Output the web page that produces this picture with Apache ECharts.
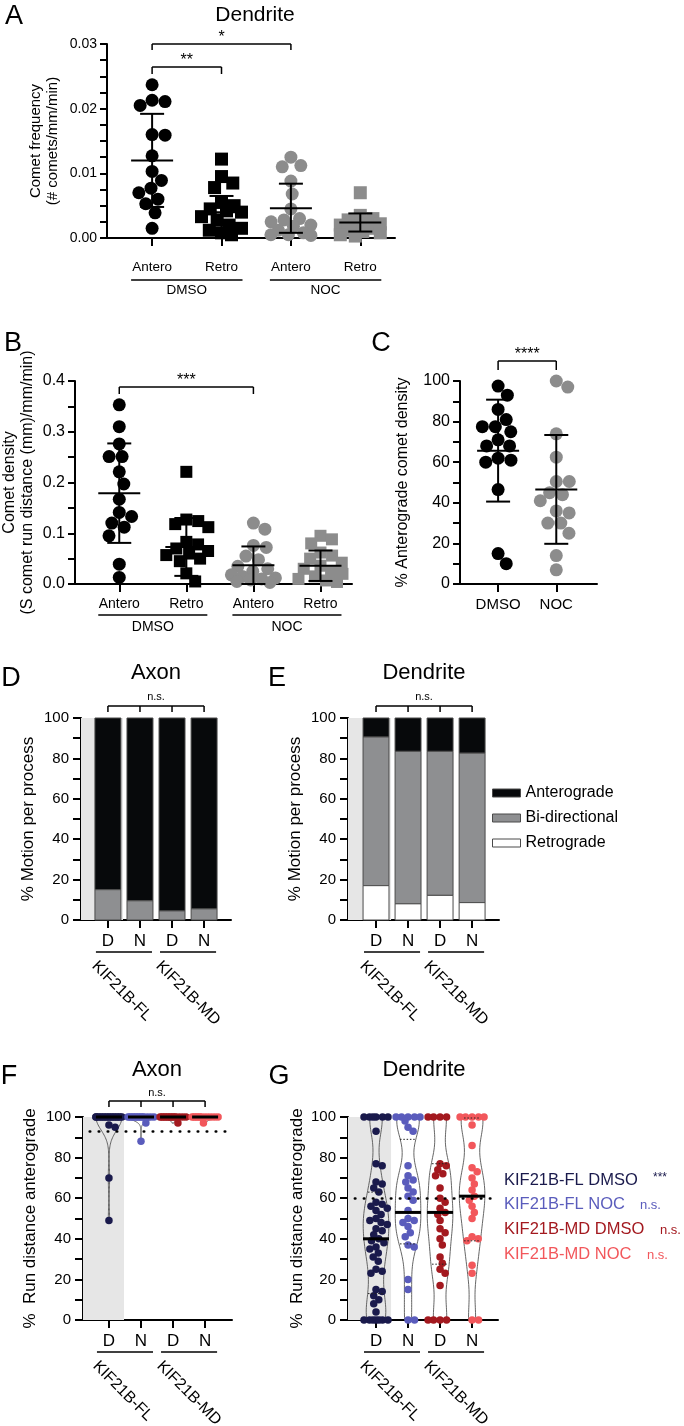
<!DOCTYPE html>
<html><head><meta charset="utf-8">
<script src="https://cdn.jsdelivr.net/npm/echarts@6/dist/echarts.min.js"></script>
<style>html,body{margin:0;padding:0;background:#fff}#c{width:684px;height:1426px}</style>
</head><body><div id="c"></div>
<script>
// ---------------- DATA ----------------
// Panel A – comet frequency (dendrite)
const A_categories = ['Antero', 'Retro', 'Antero', 'Retro'];
const A_groups = ['DMSO', 'NOC'];
const A_dmso_antero = [0.0237, 0.0213, 0.0211, 0.0205, 0.0160, 0.0159, 0.0127, 0.0103, 0.0089, 0.0077, 0.0070, 0.0060, 0.0053, 0.0039, 0.0015];
const A_dmso_retro = [0.0122, 0.0095, 0.0085, 0.0078, 0.0055, 0.0050, 0.0045, 0.0042, 0.0040, 0.0033, 0.0028, 0.0020, 0.0015, 0.0012, 0.0008, 0.0005];
const A_noc_antero = [0.0125, 0.0112, 0.0110, 0.0088, 0.0068, 0.0045, 0.0030, 0.0028, 0.0025, 0.0020, 0.0018, 0.0012, 0.0008, 0.0005, 0.0005, 0.0004];
const A_noc_retro = [0.0070, 0.0035, 0.0030, 0.0028, 0.0025, 0.0022, 0.0020, 0.0018, 0.0015, 0.0012, 0.0010, 0.0008, 0.0005, 0.0003];
const A_mean = [0.0120, 0.0040, 0.0046, 0.0024];
const A_sd = [0.0072, 0.0025, 0.0038, 0.0014];

// Panel B – comet density
const B_categories = ['Antero', 'Retro', 'Antero', 'Retro'];
const B_groups = ['DMSO', 'NOC'];
const B_dmso_antero = [0.353, 0.310, 0.276, 0.251, 0.251, 0.221, 0.197, 0.167, 0.141, 0.133, 0.120, 0.112, 0.095, 0.039, 0.013];
const B_dmso_retro = [0.221, 0.127, 0.124, 0.118, 0.112, 0.083, 0.078, 0.070, 0.065, 0.060, 0.057, 0.050, 0.045, 0.021, 0.005];
const B_noc_antero = [0.120, 0.108, 0.076, 0.072, 0.055, 0.048, 0.035, 0.030, 0.025, 0.018, 0.015, 0.012, 0.010, 0.008, 0.005, 0.003];
const B_noc_retro = [0.095, 0.088, 0.080, 0.062, 0.056, 0.050, 0.042, 0.036, 0.030, 0.025, 0.020, 0.015, 0.010, 0.007, 0.004];
const B_mean = [0.179, 0.073, 0.037, 0.036];
const B_sd = [0.098, 0.057, 0.037, 0.030];

// Panel C – % anterograde comet density
const C_categories = ['DMSO', 'NOC'];
const C_dmso = [97.5, 93, 86, 81, 77.5, 77.5, 75, 71, 68, 68, 62, 61, 60, 46.5, 15, 10];
const C_noc = [100, 97, 74, 62.5, 50.5, 50.5, 45, 44, 41, 36, 35, 30, 30, 25, 14, 7];
const C_mean = [65.7, 46.6];
const C_sd = [25.1, 26.8];

// Panels D / E – % motion per process
const DE_categories = ['D', 'N', 'D', 'N'];
const DE_groups = ['KIF21B-FL', 'KIF21B-MD'];
const motionTypes = ['Anterograde', 'Bi-directional', 'Retrograde'];
const D_antero = [85, 90.5, 95.5, 94.5];
const D_bidir = [15, 9.5, 4.5, 5.5];
const D_retro = [0, 0, 0, 0];
const E_antero = [9.4, 16.5, 16.5, 17.4];
const E_bidir = [73.6, 75.5, 71.3, 74];
const E_retro = [17, 8, 12.2, 8.6];

// Panel F – % run distance anterograde (axon)
const F_fl_dmso = [100, 100, 100, 100, 100, 100, 100, 100, 100, 100, 100, 100, 100, 100, 100, 100, 100, 100, 96, 95, 70, 49];
const F_fl_noc = [100, 100, 100, 100, 100, 100, 100, 100, 100, 100, 100, 100, 100, 100, 97, 88];
const F_md_dmso = [100, 100, 100, 100, 100, 100, 100, 100, 100, 100, 100, 100, 100, 100, 97];
const F_md_noc = [100, 100, 100, 100, 100, 100, 100, 100, 100, 100, 100, 100, 97];
const F_median = [100, 100, 100, 100];
const F_threshold = 93;

// Panel G – % run distance anterograde (dendrite)
const G_fl_dmso = [100, 100, 100, 100, 100, 100, 93, 77, 76, 68, 67, 65, 63, 58, 57, 56, 55, 54, 52, 50, 49, 48, 47, 45, 44, 42, 40, 39, 38, 36, 35, 33, 31, 29, 25, 24, 23, 15, 14, 12, 10, 8, 4, 0, 0, 0, 0, 0, 0, 0];
const G_fl_noc = [100, 100, 100, 100, 100, 98, 95, 93, 76, 71, 69, 68, 65, 63, 61, 59, 54, 50, 49, 48, 46, 43, 41, 37, 36, 20, 15, 0, 0];
const G_md_dmso = [100, 100, 100, 100, 77, 76, 74, 72, 71, 65, 60, 58, 55, 53, 52, 49, 45, 43, 40, 37, 31, 28, 25, 23, 17, 0, 0, 0, 0];
const G_md_noc = [100, 100, 100, 100, 100, 96, 86, 75, 73, 70, 67, 64, 61, 59, 56, 53, 50, 41, 40, 39, 27, 23, 0, 0];
const G_median = [40, 53, 53, 61];
const G_q1 = [13, 37.5, 27.5, 39];
const G_q3 = [63, 89, 77, 99.5];
const G_threshold = 60;
const G_legend = ['KIF21B-FL DMSO', 'KIF21B-FL NOC', 'KIF21B-MD DMSO', 'KIF21B-MD NOC'];
const G_sig = ['***', 'n.s.', 'n.s.', 'n.s.'];

// ---------------- STYLE / LAYOUT ----------------
const FONT = '"Liberation Sans", Arial, Helvetica, sans-serif';
const BLACK = '#000000', GRAY = '#8c8c8c', SHADE = '#e6e6e6';
const BAR_COL = ['#07090b', '#8e8f91', '#ffffff'];
const KIF_COL = ['#1a1a4c', '#5a5cbc', '#a3191f', '#f2575b'];

const GRIDS = [
  {left: 107, top: 44, width: 288, height: 194},   // A
  {left: 70, top: 381, width: 282, height: 203},   // B
  {left: 460, top: 381, width: 137, height: 203},  // C
  {left: 81, top: 718, width: 150, height: 202},   // D
  {left: 348, top: 718, width: 151, height: 202},  // E
  {left: 83, top: 1117, width: 149, height: 203},  // F
  {left: 348, top: 1117, width: 150, height: 203}  // G
];
const XR = [[0.35, 4.5], [0.34, 4.47], [0.345, 2.7], [0.16, 4.84], [0.125, 4.84], [0.19, 4.84], [0.125, 4.81]];

const chart = echarts.init(document.getElementById('c'), null, {width: 684, height: 1426});

function yAx(gi, max, interval, minorSplit, fmt, name, nameGap, nameSize, labelSize, tickLen, margin) {
  return {
    type: 'value', gridIndex: gi, min: 0, max: max, interval: interval,
    axisLine: {show: true, lineStyle: {color: BLACK, width: 2}},
    axisTick: {show: true, length: tickLen, lineStyle: {color: BLACK, width: 2}},
    minorTick: {show: true, splitNumber: minorSplit, length: tickLen, lineStyle: {color: BLACK, width: 2}},
    splitLine: {show: false}, minorSplitLine: {show: false},
    axisLabel: {fontFamily: FONT, fontSize: labelSize, color: BLACK, margin: margin, formatter: fmt},
    name: name, nameLocation: 'middle', nameGap: nameGap, nameRotate: 90,
    nameTextStyle: {fontFamily: FONT, fontSize: nameSize, color: BLACK, lineHeight: Math.round(nameSize * 1.15)}
  };
}
function xAx(gi, labels, fontSize, margin) {
  const vals = labels.map((l, i) => i + 1);
  return {
    type: 'value', gridIndex: gi, min: XR[gi][0], max: XR[gi][1],
    axisLine: {show: true, onZero: false, lineStyle: {color: BLACK, width: 2}},
    axisTick: {show: true, customValues: vals, length: 8, lineStyle: {color: BLACK, width: 2}},
    axisLabel: {show: true, customValues: vals, formatter: v => labels[Math.round(v) - 1] || '', fontFamily: FONT, fontSize: fontSize, color: BLACK, margin: margin},
    splitLine: {show: false}
  };
}

const base = {
  animation: false,
  backgroundColor: '#ffffff',
  grid: GRIDS.map(g => Object.assign({containLabel: false}, g)),
  xAxis: [
    xAx(0, A_categories, 13.5, 22),
    xAx(1, B_categories, 14, 13),
    xAx(2, C_categories, 15, 13),
    xAx(3, DE_categories, 17, 13),
    xAx(4, DE_categories, 17, 13),
    xAx(5, DE_categories, 17, 13),
    xAx(6, DE_categories, 17, 13)
  ],
  yAxis: [
    yAx(0, 0.03, 0.01, 4, v => v.toFixed(2), 'Comet frequency\n(# comets/mm/min)', 46, 15, 14, 7, 10),
    yAx(1, 0.4, 0.1, 2, v => v.toFixed(1), 'Comet density\n(S comet run distance (mm)/mm/min)', 38, 16, 16, 7, 10),
    yAx(2, 100, 20, 2, v => String(v), '% Anterograde comet density', 48, 16, 16, 7, 10),
    yAx(3, 100, 20, 2, v => String(v), '% Motion per process', 43, 17, 15, 8, 12),
    yAx(4, 100, 20, 2, v => String(v), '% Motion per process', 43, 17, 15, 8, 12),
    yAx(5, 100, 20, 2, v => String(v), '%  Run distance anterograde', 43, 17, 15, 8, 12),
    yAx(6, 100, 20, 2, v => String(v), '%  Run distance anterograde', 41, 17, 15, 8, 12)
  ],
  series: []
};
chart.setOption(base);

const px = (gi, x, y) => chart.convertToPixel({gridIndex: gi}, [x, y]);
const fromPx = (gi, p) => chart.convertFromPixel({gridIndex: gi}, p);

// deterministic beeswarm layout (pixel space)
function swarm(ys, diam, maxHalf) {
  const order = ys.map((y, i) => i).sort((a, b) => ys[a] - ys[b] || a - b);
  const placed = [], off = new Array(ys.length);
  for (const i of order) {
    const y = ys[i];
    const near = placed.filter(p => Math.abs(p.y - y) < diam);
    const cands = [0];
    near.forEach(p => { const dx = Math.sqrt(diam * diam - (p.y - y) * (p.y - y)); cands.push(p.x + dx, p.x - dx); });
    cands.sort((a, b) => Math.abs(a) - Math.abs(b) || b - a);
    let best = null;
    for (const c of cands) {
      if (Math.abs(c) > maxHalf + 0.01) continue;
      if (near.every(p => (p.x - c) * (p.x - c) + (p.y - y) * (p.y - y) >= diam * diam - 0.05)) { best = c; break; }
    }
    if (best === null) {
      let bd = -1;
      for (let k = 0; k <= 16; k++) {
        const c = -maxHalf + 2 * maxHalf * k / 16;
        const md = Math.min(...near.map(p => Math.hypot(p.x - c, p.y - y)));
        if (md > bd + 1e-6) { bd = md; best = c; }
      }
    }
    placed.push({x: best, y: y}); off[i] = best;
  }
  return off;
}
function swarmData(gi, xc, vals, diam, maxHalf) {
  const ys = vals.map(v => px(gi, xc, v)[1]);
  const offs = swarm(ys, diam, maxHalf);
  const x0 = px(gi, xc, 0)[0];
  return vals.map((v, i) => [fromPx(gi, [x0 + offs[i], 0])[0], v]);
}
function scatter(gi, xc, vals, color, symbol, size, diam, maxHalf, z) {
  return {type: 'scatter', xAxisIndex: gi, yAxisIndex: gi, symbol: symbol, symbolSize: size, z: z || 3, silent: true,
    itemStyle: {color: color, opacity: 1}, data: swarmData(gi, xc, vals, diam, maxHalf)};
}
function meanSd(gi, means, sds) {
  return {type: 'custom', xAxisIndex: gi, yAxisIndex: gi, z: 6, silent: true,
    data: means.map((m, i) => [i + 1, m, sds[i]]), encode: {x: 0, y: 1},
    renderItem: (p, api) => {
      const x = api.value(0), m = api.value(1), s = api.value(2);
      const c = api.coord([x, m]), t = api.coord([x, m + s]), b = api.coord([x, Math.max(0, m - s)]);
      const st = {stroke: BLACK, lineWidth: 2};
      return {type: 'group', children: [
        {type: 'line', shape: {x1: c[0], y1: t[1], x2: c[0], y2: b[1]}, style: st},
        {type: 'line', shape: {x1: c[0] - 12, y1: t[1], x2: c[0] + 12, y2: t[1]}, style: st},
        {type: 'line', shape: {x1: c[0] - 12, y1: b[1], x2: c[0] + 12, y2: b[1]}, style: st},
        {type: 'line', shape: {x1: c[0] - 21, y1: c[1], x2: c[0] + 21, y2: c[1]}, style: st}
      ]};
    }};
}
function barSeries(gi, name, lows, highs, color, withShade) {
  const s = {type: 'custom', name: name, xAxisIndex: gi, yAxisIndex: gi, z: 3, silent: true,
    itemStyle: {color: color, borderColor: '#4a4a4a', borderWidth: 1},
    data: lows.map((l, i) => [i + 1, l, highs[i]]), encode: {x: 0, y: [1, 2]},
    renderItem: (p, api) => {
      const x = api.value(0);
      const a = api.coord([x, api.value(1)]), b = api.coord([x, api.value(2)]);
      const w = api.size([0.81, 0])[0];
      if (a[1] - b[1] < 0.01) return null;
      return {type: 'rect', shape: {x: a[0] - w / 2, y: b[1], width: w, height: a[1] - b[1]},
        style: {fill: color, stroke: '#4a4a4a', lineWidth: 1}};
    }};
  if (withShade) s.markArea = {silent: true, itemStyle: {color: SHADE}, data: [[{xAxis: XR[gi][0], yAxis: 0}, {xAxis: 1.47, yAxis: 100}]]};
  return s;
}
function stackSeries(gi, antero, bidir, retro, shade) {
  const r0 = retro.map(() => 0), r1 = retro.slice();
  const b1 = retro.map((r, i) => r + bidir[i]);
  const a1 = b1.map((b, i) => b + antero[i]);
  return [
    barSeries(gi, motionTypes[0], b1, a1, BAR_COL[0], shade),
    barSeries(gi, motionTypes[1], r1, b1, BAR_COL[1], false),
    barSeries(gi, motionTypes[2], r0, r1, BAR_COL[2], false)
  ];
}
function kde(vals, h, y) { let s = 0; for (const v of vals) { const z = (y - v) / h; s += Math.exp(-0.5 * z * z); } return s; }
function bandwidth(vals, f) {
  const n = vals.length, m = vals.reduce((a, b) => a + b, 0) / n;
  const sd = Math.sqrt(vals.reduce((a, b) => a + (b - m) * (b - m), 0) / (n - 1));
  const s = vals.slice().sort((a, b) => a - b);
  const iqr = s[Math.floor(0.75 * (n - 1))] - s[Math.floor(0.25 * (n - 1))];
  const sig = iqr > 0 ? Math.min(sd, iqr / 1.34) : sd;
  return Math.max(0.9 * sig * Math.pow(n, -0.2) * f, 1);
}
function violin(gi, groups, halfW, f, shade) {
  const s = {type: 'custom', xAxisIndex: gi, yAxisIndex: gi, z: 2, silent: true,
    data: groups.map((g, i) => [i + 1, Math.min(...g), Math.max(...g)]), encode: {x: 0, y: [1, 2]},
    renderItem: (p, api) => {
      const vals = groups[p.dataIndex], x = api.value(0);
      const lo = Math.min(...vals), hi = Math.max(...vals), h = bandwidth(vals, f);
      const N = 80, ys = [], ds = [];
      for (let k = 0; k <= N; k++) { const y = lo + (hi - lo) * k / N; ys.push(y); ds.push(kde(vals, h, y)); }
      const mx = Math.max(...ds);
      const left = [], right = [];
      ys.forEach((y, k) => { const w = halfW * ds[k] / mx; left.push(api.coord([x - w, y])); right.push(api.coord([x + w, y])); });
      const pts = left.concat(right.reverse());
      return {type: 'polygon', shape: {points: pts}, style: {fill: 'none', stroke: '#555', lineWidth: 0.9}};
    }};
  if (shade) s.markArea = {silent: true, itemStyle: {color: SHADE}, data: [[{xAxis: XR[gi][0], yAxis: 0}, {xAxis: 1.47, yAxis: 101.5}]]};
  return s;
}
function medians(gi, meds, q1, q3, halfPx) {
  return {type: 'custom', xAxisIndex: gi, yAxisIndex: gi, z: 6, silent: true,
    data: meds.map((m, i) => [i + 1, m, q1 ? q1[i] : m, q3 ? q3[i] : m]), encode: {x: 0, y: 1},
    renderItem: (p, api) => {
      const x = api.value(0);
      const c = api.coord([x, api.value(1)]);
      const ch = [{type: 'line', shape: {x1: c[0] - halfPx, y1: c[1], x2: c[0] + halfPx, y2: c[1]}, style: {stroke: BLACK, lineWidth: 3}}];
      if (q1) {
        [api.value(2), api.value(3)].forEach(q => {
          const qc = api.coord([x, q]);
          ch.push({type: 'line', shape: {x1: qc[0] - 8, y1: qc[1], x2: qc[0] + 8, y2: qc[1]}, style: {stroke: '#222', lineWidth: 1, lineDash: [1.5, 1.8]}});
        });
      }
      return {type: 'group', children: ch};
    }};
}
function threshold(gi, y, x0) {
  return {type: 'line', xAxisIndex: gi, yAxisIndex: gi, data: [], silent: true, z: 5,
    markLine: {silent: true, symbol: 'none', label: {show: false},
      lineStyle: {color: BLACK, width: 2.6, type: [0.5, 8.5], cap: 'round'},
      data: [[{coord: [x0, y]}, {coord: [XR[gi][1], y]}]]}};
}

const F_groups = [F_fl_dmso, F_fl_noc, F_md_dmso, F_md_noc];
const G_groups = [G_fl_dmso, G_fl_noc, G_md_dmso, G_md_noc];

const series = [];
// A
series.push(scatter(0, 1, A_dmso_antero, BLACK, 'circle', 13, 13, 20));
series.push(scatter(0, 2, A_dmso_retro, BLACK, 'rect', 13, 13, 20));
series.push(scatter(0, 3, A_noc_antero, GRAY, 'circle', 13, 13, 20));
series.push(scatter(0, 4, A_noc_retro, GRAY, 'rect', 13, 13, 20));
series.push(meanSd(0, A_mean, A_sd));
// B
series.push(scatter(1, 1, B_dmso_antero, BLACK, 'circle', 13, 13, 22));
series.push(scatter(1, 2, B_dmso_retro, BLACK, 'rect', 12, 12, 22));
series.push(scatter(1, 3, B_noc_antero, GRAY, 'circle', 13, 13, 22));
series.push(scatter(1, 4, B_noc_retro, GRAY, 'rect', 12, 12, 22));
series.push(meanSd(1, B_mean, B_sd));
// C
series.push(scatter(2, 1, C_dmso, BLACK, 'circle', 13, 13, 16));
series.push(scatter(2, 2, C_noc, GRAY, 'circle', 13, 13, 16));
series.push(meanSd(2, C_mean, C_sd));
// D, E
stackSeries(3, D_antero, D_bidir, D_retro, true).forEach(s => series.push(s));
stackSeries(4, E_antero, E_bidir, E_retro, true).forEach(s => series.push(s));
// F
series.push(violin(5, F_groups, 0.4, 1.0, true));
F_groups.forEach((g, i) => series.push(scatter(5, i + 1, g, KIF_COL[i], 'circle', 7.5, 6.5, 13, 4)));
series.push(medians(5, F_median, null, null, 13));
series.push(threshold(5, F_threshold, 0.4));
// G
series.push(violin(6, G_groups, 0.4, 0.65, true));
G_groups.forEach((g, i) => series.push(scatter(6, i + 1, g, KIF_COL[i], 'circle', 7.5, 6.5, 12, 4)));
series.push(medians(6, G_median, G_q1, G_q3, 13));
series.push(threshold(6, G_threshold, 0.34));

// ---------------- annotations ----------------
const gr = [];
function txt(x, y, s, size, opts) {
  gr.push(Object.assign({type: 'text', x: x, y: y, silent: true, z: 20,
    style: Object.assign({text: s, fontFamily: FONT, fontSize: size, fill: BLACK, align: 'center', verticalAlign: 'middle'}, (opts && opts.style) || {})},
    opts && opts.rotation !== undefined ? {rotation: opts.rotation} : {}));
}
function line(x1, y1, x2, y2, w) {
  gr.push({type: 'line', silent: true, z: 20, shape: {x1: x1, y1: y1, x2: x2, y2: y2}, style: {stroke: BLACK, lineWidth: w || 1.5}});
}
function bracket(gi, xs, yTopPx, drop, label, size, labelDy) {
  const p = xs.map(x => px(gi, x, 0)[0]);
  line(p[0], yTopPx, p[p.length - 1], yTopPx, 1.5);
  p.forEach(xx => line(xx, yTopPx, xx, yTopPx + drop, 1.5));
  txt((p[0] + p[p.length - 1]) / 2, yTopPx + labelDy, label, size);
}
// panel letters and titles
txt(14, 17, 'A', 27); txt(13, 344, 'B', 27); txt(381, 344, 'C', 27);
txt(11, 679, 'D', 27); txt(277, 679, 'E', 27); txt(9, 1077, 'F', 27); txt(279, 1077, 'G', 27);
txt(255, 15, 'Dendrite', 21); txt(156, 673, 'Axon', 22); txt(424, 673, 'Dendrite', 22);
txt(157, 1070, 'Axon', 22); txt(424, 1070, 'Dendrite', 22);

// significance brackets
const topA = px(0, 1, 0.03)[1];
bracket(0, [1, 3], topA, 6, '*', 16, -6);
bracket(0, [1, 2], topA + 23, 7, '**', 16, -6);
const topB = px(1, 1, 0.4)[1];
bracket(1, [1, 3], topB + 6, 7, '***', 16, -6);
const topC = px(2, 1, 100)[1];
bracket(2, [1, 2], topC - 20, 9, '****', 16, -6);
const topD = px(3, 1, 100)[1];
bracket(3, [1, 2, 3, 4], topD - 12, 6, 'n.s.', 11, -9);
const topE = px(4, 1, 100)[1];
bracket(4, [1, 2, 3, 4], topE - 12, 6, 'n.s.', 11, -9);
const topF = px(5, 1, 100)[1];
bracket(5, [1, 2, 3, 4], topF - 16, 6, 'n.s.', 11, -8);

// group underlines & group labels
function groupsFlat(gi, groups, under, lab, half, size) {
  const y0 = px(gi, 1, 0)[1];
  groups.forEach((g, k) => {
    const a = px(gi, 2 * k + 1, 0)[0], b = px(gi, 2 * k + 2, 0)[0];
    line(a - half, y0 + under, b + half, y0 + under, 1.5);
    txt((a + b) / 2, y0 + lab, g, size);
  });
}
groupsFlat(0, A_groups, 42, 52, 21, 13.5);
groupsFlat(1, B_groups, 31, 43, 21, 14);
function groupsRot(gi, groups) {
  const y0 = px(gi, 1, 0)[1];
  groups.forEach((g, k) => {
    const a = px(gi, 2 * k + 1, 0)[0], b = px(gi, 2 * k + 2, 0)[0];
    line(a - 12, y0 + 32, b + 12, y0 + 32, 1.5);
    gr.push({type: 'text', x: a - 8, y: y0 + 38, rotation: -Math.PI / 4, silent: true, z: 20,
      style: {text: g, fontFamily: FONT, fontSize: 16, fill: BLACK, align: 'left', verticalAlign: 'top'}});
  });
}
[3, 4, 5, 6].forEach(gi => groupsRot(gi, DE_groups));

// G legend
const gRight = px(6, XR[6][1], 0)[0];
const sigX = [653, 640, 660, 647];
G_legend.forEach((t, i) => {
  const y = 1180 + i * 24.7;
  txt(gRight + 6, y, t, 16.5, {style: {align: 'left', fill: KIF_COL[i]}});
  txt(sigX[i], y + (i === 0 ? -2 : 1), G_sig[i], i === 0 ? 12 : 13, {style: {align: 'left', fill: KIF_COL[i]}});
});

chart.setOption({
  series: series,
  legend: {show: true, orient: 'vertical', left: 492, top: 785, itemWidth: 28, itemHeight: 8, itemGap: 9,
    selectedMode: false, icon: 'rect', padding: 0,
    textStyle: {fontFamily: FONT, fontSize: 16, color: BLACK, lineHeight: 16},
    data: motionTypes.map((m, i) => ({name: m, itemStyle: {color: BAR_COL[i], borderColor: '#4a4a4a', borderWidth: 1}}))},
  graphic: gr
});
</script></body></html>
